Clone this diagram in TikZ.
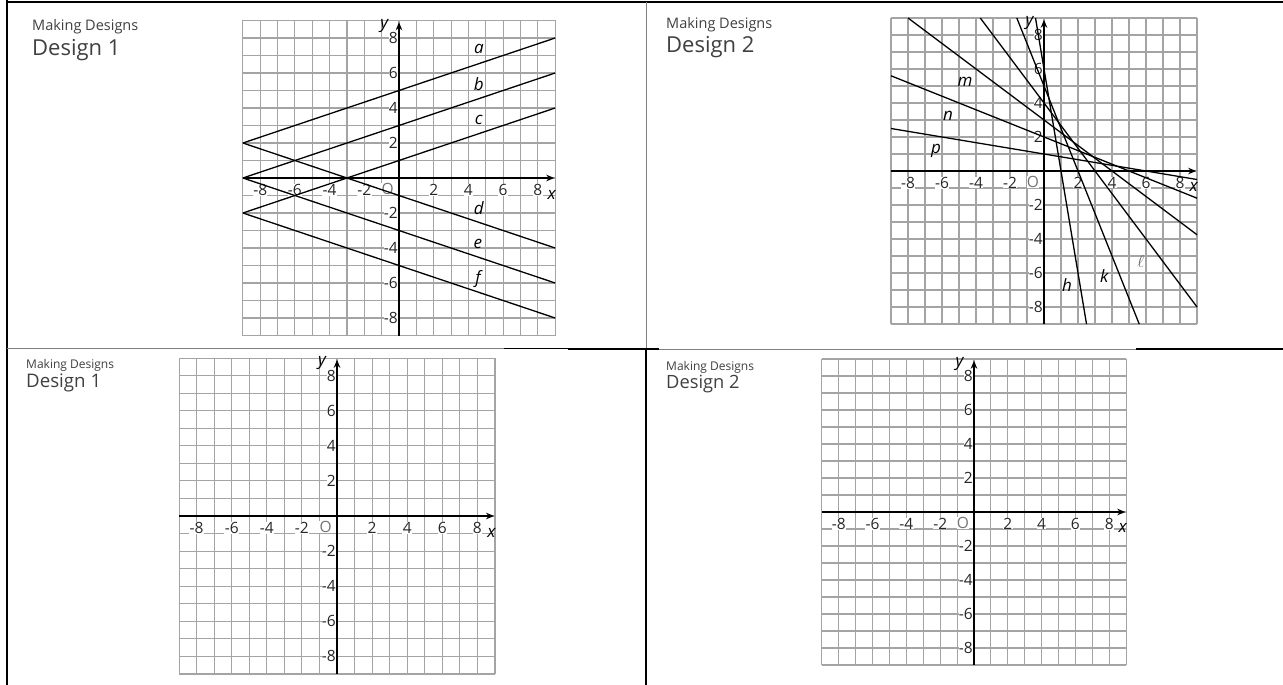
\documentclass[tikz,border=0pt]{standalone}
\usepackage{fontspec}
\setmainfont{Open Sans}
\usepackage{tikz}
\usetikzlibrary{arrows.meta}
\definecolor{GridGray}{HTML}{A4A4A4}
\definecolor{HeadGray}{HTML}{404040}

% square grid from -9 to 9 with axes and tick labels, #1 = name prefix
\newcommand{\axesgrid}[1]{%
  \fill[white] (-9,-9) rectangle (9,9);
  \foreach \g in {-9,...,9} {
    \draw[gridline] (\g,-9) -- (\g,9);
    \draw[gridline] (-9,\g) -- (9,\g);
  }
  \draw[axisline] (-9,0) -- (8.95,0);
  \draw[axisline] (0,-9) -- (0,8.9);
  \foreach \t in {-8,-6,-4,-2,2,4,6,8} {
    \node[ticklabel] (#1x\t) at (\t,-0.68) {\t};
    \node[ticklabel,anchor=east] (#1y\t) at (-0.04,\t) {\t};
  }
  \node[ticklabel,text=black!55] (#1o) at (-0.65,-0.65) {O};
  \node[varlabel] (#1xl) at (8.8,-0.95) {x};
  \node[varlabel] (#1yl) at (-0.85,8.7) {y};
}

\begin{document}
\begin{tikzpicture}[
  x=1pt,y=-1pt,
  gridline/.style={draw=GridGray,line width=1.1pt},
  axisline/.style={draw=black,line width=1.6pt,-{Stealth[length=8pt,width=6.5pt]}},
  graphline/.style={draw=black,line width=1.3pt},
  ticklabel/.style={font=\fontsize{15.5}{15.5}\selectfont,text=black!85,fill=white,inner sep=0.3pt},
  varlabel/.style={font=\fontsize{17}{17}\selectfont\itshape,inner sep=0pt},
  linelabel/.style={font=\fontsize{17}{17}\selectfont\itshape,inner sep=0pt},
  bighead/.style={font=\fontsize{22}{22}\selectfont,text=HeadGray,anchor=base west,inner sep=0pt},
  smallhead/.style={font=\fontsize{14.5}{14.5}\selectfont,text=HeadGray,anchor=base west,inner sep=0pt},
  tableline/.style={draw=black,line width=2.4pt},
  thinrule/.style={draw=gray,line width=1pt}
]
\useasboundingbox[fill=white] (0,0) rectangle (1283,685);

% table rules
\draw[tableline] (7,2) -- (1283,2);
\draw[tableline] (7,0) -- (7,685);
\draw[thinrule] (646,2) -- (646,349);
\draw[tableline] (646,349) -- (646,685);
\draw[thinrule] (7,348) -- (504,348);
\draw[draw=black,line width=1pt] (504,348) -- (568,348);
\draw[tableline] (568,349) -- (659,349);
\draw[thinrule] (659,349) -- (1136,349);
\draw[tableline] (1136,349) -- (1283,349);

% headings
\node[smallhead] (tlsub) at (32,31) {Making Designs};
\node[bighead] (tlhead) at (32,56) {Design 1};
\node[smallhead] (trsub) at (666,29) {Making Designs};
\node[bighead] (trhead) at (666,53) {Design 2};
\node[smallhead,font=\fontsize{12}{12}\selectfont] (blsub) at (26,368) {Making Designs};
\node[bighead,font=\fontsize{18.7}{18.7}\selectfont] (blhead) at (26,387) {Design 1};
\node[smallhead,font=\fontsize{12}{12}\selectfont] (brsub) at (666,370) {Making Designs};
\node[bighead,font=\fontsize{18.3}{18.3}\selectfont] (brhead) at (666,388) {Design 2};

% Design 1, top
\begin{scope}[shift={(399pt,-178pt)},x=17.35pt,y=17.5pt]
  \axesgrid{tl}
  \draw[graphline] (-9,2) -- (9,8);
  \draw[graphline] (-9,0) -- (9,6);
  \draw[graphline] (-9,-2) -- (9,4);
  \draw[graphline] (-9,2) -- (9,-4);
  \draw[graphline] (-9,0) -- (9,-6);
  \draw[graphline] (-9,-2) -- (9,-8);
  \node[linelabel] (la) at (4.6,7.4) {a};
  \node[linelabel] (lb) at (4.6,5.35) {b};
  \node[linelabel] (lc) at (4.6,3.3) {c};
  \node[linelabel] (ld) at (4.6,-1.7) {d};
  \node[linelabel] (le) at (4.55,-3.75) {e};
  \node[linelabel] (lf) at (4.55,-5.8) {f};
\end{scope}

% Design 2, top
\begin{scope}[shift={(1044pt,-171pt)},x=17pt,y=17pt]
  \axesgrid{tr}
  \draw[graphline] (-0.5,9) -- (2.5,-9);
  \draw[graphline] (-1.6,9) -- (5.6,-9);
  \draw[graphline] (-3.75,9) -- (9,-8);
  \draw[graphline] (-8,9) -- (9,-3.75);
  \draw[graphline] (-9,5.6) -- (9,-1.6);
  \draw[graphline] (-9,2.5) -- (9,-0.5);
  \node[linelabel] (lh) at (1.35,-6.7) {h};
  \node[linelabel] (lk) at (3.55,-6.15) {k};
  \node[linelabel,text=black!60] (lell) at (5.7,-5.3) {$\ell$};
  \node[linelabel] (lm) at (-4.65,5.25) {m};
  \node[linelabel] (ln) at (-5.65,3.25) {n};
  \node[linelabel] (lp) at (-6.35,1.2) {p};
\end{scope}

% Design 1, bottom
\begin{scope}[shift={(337pt,-516pt)},x=17.55pt,y=17.55pt]
  \axesgrid{bl}
\end{scope}

% Design 2, bottom
\begin{scope}[shift={(974pt,-512pt)},x=16.9pt,y=17pt]
  \axesgrid{br}
\end{scope}
\end{tikzpicture}
\end{document}
